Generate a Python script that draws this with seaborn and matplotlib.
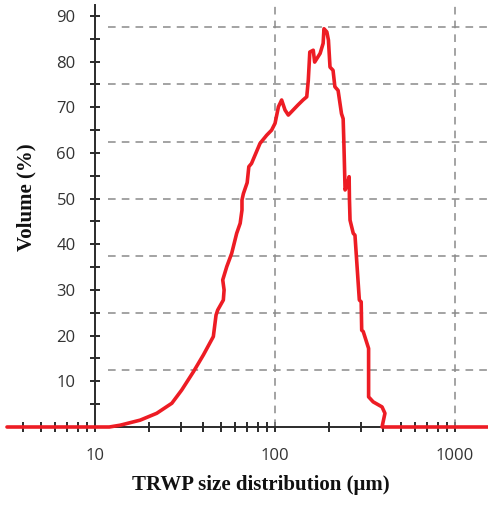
import matplotlib
matplotlib.use("Agg")
import matplotlib.pyplot as plt
import seaborn as sns
import pandas as pd
from matplotlib.ticker import LogLocator, FixedLocator, FuncFormatter, NullFormatter

# ─── Данные ──────────────────────────────────────────────────────────────────────
size_um = [3.24, 10, 12, 13.8, 17.8, 22, 26.7, 30.3, 35.2, 40, 45.4, 47, 48,
           51.6, 52.1, 51.2, 53.9, 57.4, 61.2, 64, 65.5, 65.5, 66.7, 70, 71.5,
           74, 82.5, 89.9, 95.7, 100, 104.4, 108.8, 113.6, 118.5, 126, 134,
           143, 150, 153, 156, 163, 166, 178, 185, 187, 194, 198, 202, 210,
           215, 224, 234, 239, 241, 245, 252, 258, 259, 261, 272, 278, 294,
           301, 303, 309, 331, 331, 351, 393, 408, 393, 1525]
volume_pct = [0, 0, 0, 0.4, 1.5, 3.0, 5.2, 8.1, 12.1, 15.8, 19.8, 24.5, 25.6,
              27.8, 30.0, 32.2, 35.1, 38.0, 42.4, 44.6, 47.5, 49.7, 51.1, 53.5,
              57.0, 57.7, 62.1, 63.9, 65.0, 66.5, 70.1, 71.6, 69.4, 68.3, 69.4,
              70.5, 71.6, 72.3, 75.9, 82.1, 82.5, 79.9, 81.8, 84.0, 87.2, 86.5,
              84.7, 78.8, 78.1, 74.5, 73.7, 68.6, 67.5, 62.8, 51.9, 53.0, 54.8,
              50.0, 45.3, 42.4, 42.0, 27.8, 27.4, 21.2, 20.9, 17.2, 6.6, 5.5,
              4.4, 3.0, 0, 0]

x_lim = (3.24, 1525)
y_lim = (0, 92.4)
y_major = [10, 20, 30, 40, 50, 60, 70, 80, 90]
y_minor = [5, 15, 25, 35, 45, 55, 65, 75, 85]
grid_y = [12.5, 25, 37.5, 50, 62.5, 75, 87.5]
grid_x = [100, 1000]
grid_y_start = 11.8

LINE_COLOR = "#ed1c24"
AXIS_COLOR = "#2b2b2b"
GRID_COLOR = "#8a8a8a"


# ─── График ──────────────────────────────────────────────────────────────────────
def plot_distribution():
    sns.set_style("white")
    plt.rcParams["font.family"] = ["Open Sans", "DejaVu Sans"]

    df = pd.DataFrame({"size": size_um, "volume": volume_pct})

    fig = plt.figure(figsize=(4.88, 5.08), dpi=100)
    ax = fig.add_axes([7 / 488, 81 / 508, 481 / 488, 422 / 508])

    # сетка
    ax.hlines(grid_y, grid_y_start, x_lim[1], colors=GRID_COLOR,
              linestyles=(0, (5, 4)), linewidth=1.1, zorder=1)
    ax.vlines(grid_x, y_lim[0], y_lim[1], colors=GRID_COLOR,
              linestyles=(0, (5, 4)), linewidth=1.1, zorder=1)

    sns.lineplot(data=df, x="size", y="volume", sort=False, estimator=None,
                 color=LINE_COLOR, linewidth=2.6, ax=ax, zorder=5)
    for ln in ax.lines:
        ln.set_clip_on(False)

    ax.set_xscale("log")
    ax.set_xlim(*x_lim)
    ax.set_ylim(*y_lim)

    ax.xaxis.set_major_locator(LogLocator(base=10, numticks=10))
    ax.xaxis.set_minor_locator(LogLocator(base=10, subs=range(2, 10), numticks=30))
    ax.xaxis.set_major_formatter(FuncFormatter(lambda v, _: f"{v:g}"))
    ax.xaxis.set_minor_formatter(NullFormatter())
    ax.yaxis.set_major_locator(FixedLocator(y_major))
    ax.yaxis.set_minor_locator(FixedLocator(y_minor))

    for side in ["top", "right"]:
        ax.spines[side].set_visible(False)
    ax.spines["left"].set_position(("data", 10))
    ax.spines["bottom"].set_position(("data", 0))
    for side in ["left", "bottom"]:
        ax.spines[side].set_color(AXIS_COLOR)
        ax.spines[side].set_linewidth(1.4)
        ax.spines[side].set_zorder(3)

    ax.tick_params(axis="both", which="both", direction="inout", length=7,
                   width=1.4, color=AXIS_COLOR, labelcolor="#333333",
                   labelsize=12, bottom=True, left=True)
    ax.tick_params(axis="x", which="both", pad=11.5)
    ax.tick_params(axis="y", which="both", pad=10.5)

    label_font = dict(family="Liberation Serif", weight="bold", size=15,
                      color="#111111")
    ax.set_xlabel("TRWP size distribution (μm)", **label_font)
    ax.set_ylabel("Volume (%)", **label_font)
    ax.xaxis.set_label_coords(0.528, -0.114)
    ax.yaxis.set_label_coords(0.062, 0.545)

    fig.savefig("out.png", dpi=100)
    plt.close(fig)


if __name__ == "__main__":
    plot_distribution()
